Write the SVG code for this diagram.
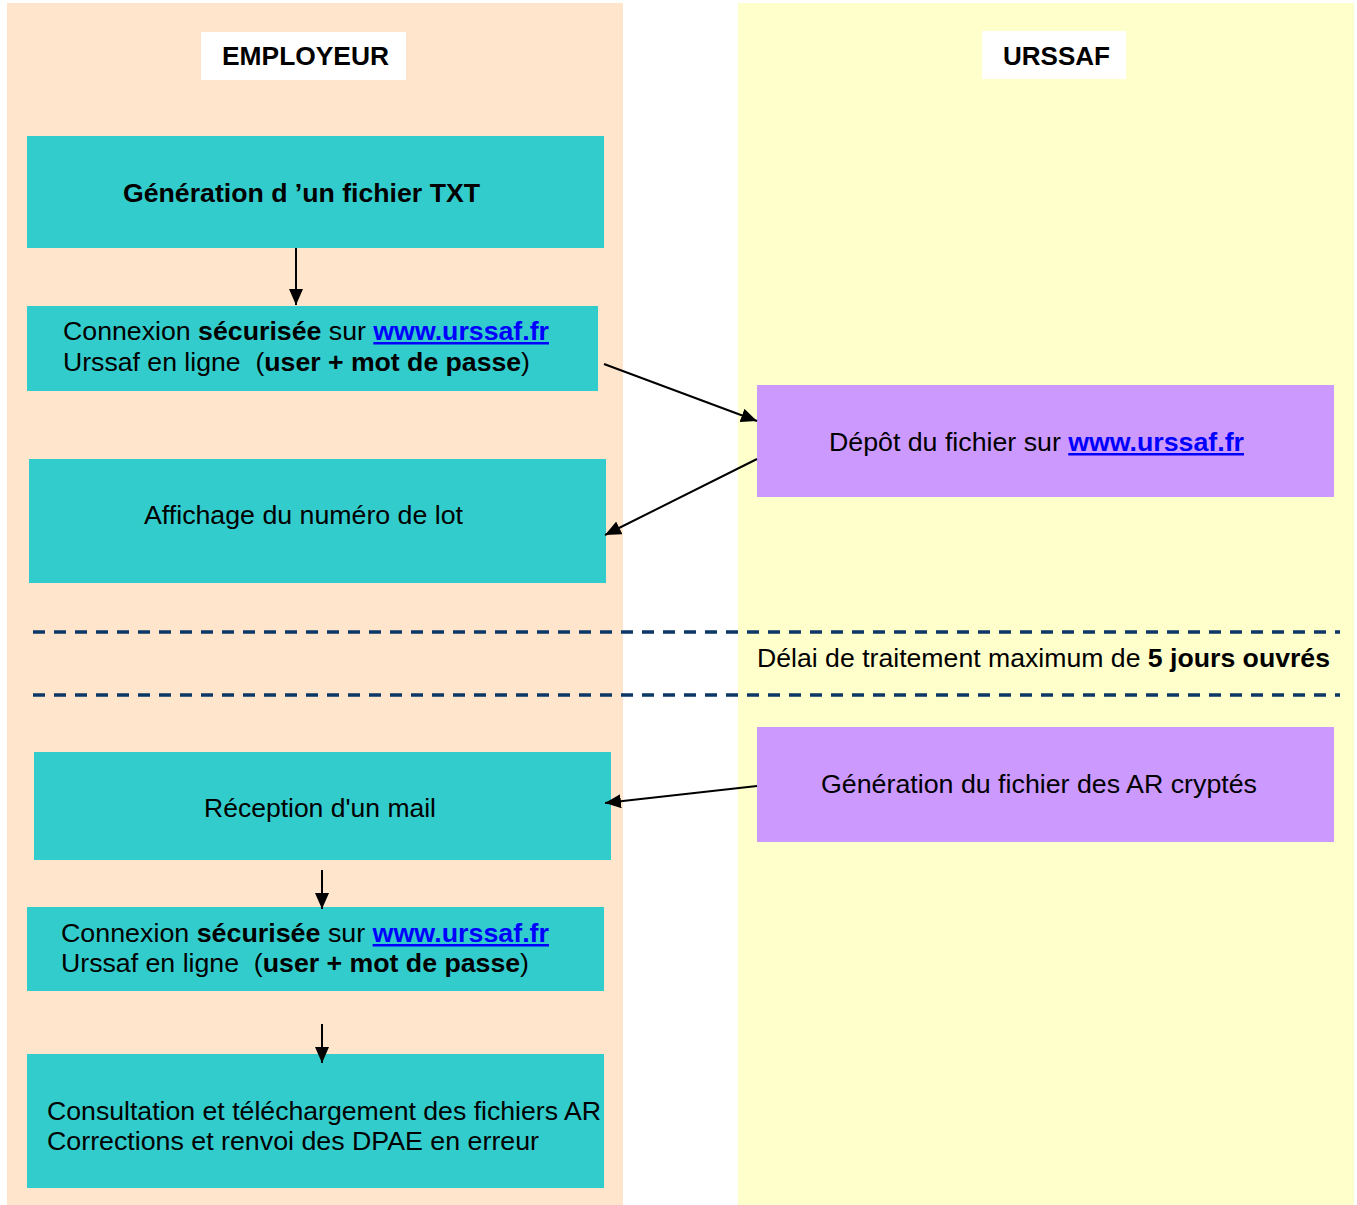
<svg xmlns="http://www.w3.org/2000/svg" width="1357" height="1205" viewBox="0 0 1357 1205">
<defs>
<style>
text{font-family:"Liberation Sans",Arial,sans-serif;font-size:25px;fill:#000;white-space:pre}
.b{font-weight:bold}
.lnk{fill:#0000FF;font-weight:bold;text-decoration:underline}
.teal{fill:#33CCCC}
.pur{fill:#CC99FF}
.con{stroke:#000;stroke-width:2;fill:none;marker-end:url(#ah)}
.dash{stroke:#0B3766;stroke-width:3.5;stroke-dasharray:12 9;fill:none}
</style>
<marker id="ah" viewBox="0 0 16 14" refX="16" refY="7" markerWidth="16" markerHeight="14" orient="auto" markerUnits="userSpaceOnUse">
<path d="M0,0 L16,7 L0,14 z" fill="#000"/>
</marker>
</defs>
<rect width="1357" height="1205" fill="#fff"/>
<g id="lane-employeur">
<rect x="7" y="3" width="616" height="1202" fill="#FFE5CB"/>
<rect x="201" y="32" width="205" height="48" fill="#fff"/>
<text x="222" y="65" class="b" textLength="167" lengthAdjust="spacingAndGlyphs">EMPLOYEUR</text>
</g>
<g id="lane-urssaf">
<rect x="738" y="3" width="616" height="1202" fill="#FFFFCC"/>
<rect x="982" y="31" width="144" height="48" fill="#fff"/>
<text x="1003" y="65" class="b" textLength="107" lengthAdjust="spacingAndGlyphs">URSSAF</text>
</g>
<g id="n1">
<rect x="27" y="136" width="577" height="112" class="teal"/>
<text x="123" y="202" class="b" textLength="357" lengthAdjust="spacingAndGlyphs">Génération d ’un fichier TXT</text>
</g>
<g id="n2">
<rect x="27" y="306" width="571" height="85" class="teal"/>
<text x="63" y="340" textLength="486" lengthAdjust="spacingAndGlyphs">Connexion <tspan class="b">sécurisée</tspan> sur <tspan class="lnk">www.urssaf.fr</tspan></text>
<text x="63" y="371" textLength="467" lengthAdjust="spacingAndGlyphs">Urssaf en ligne  (<tspan class="b">user + mot de passe</tspan>)</text>
</g>
<g id="n3">
<rect x="29" y="459" width="577" height="124" class="teal"/>
<text x="144" y="524" textLength="319" lengthAdjust="spacingAndGlyphs">Affichage du numéro de lot</text>
</g>
<g id="n4">
<rect x="757" y="385" width="577" height="112" class="pur"/>
<text x="829" y="451" textLength="415" lengthAdjust="spacingAndGlyphs">Dépôt du fichier sur <tspan class="lnk">www.urssaf.fr</tspan></text>
</g>
<g id="delai">
<path d="M33 632 H1340" class="dash"/>
<path d="M33 695 H1340" class="dash"/>
<text x="757" y="667" textLength="573" lengthAdjust="spacingAndGlyphs">Délai de traitement maximum de <tspan class="b">5 jours ouvrés</tspan></text>
</g>
<g id="n5">
<rect x="34" y="752" width="577" height="108" class="teal"/>
<text x="204" y="817" textLength="232" lengthAdjust="spacingAndGlyphs">Réception d'un mail</text>
</g>
<g id="n6">
<rect x="757" y="727" width="577" height="115" class="pur"/>
<text x="821" y="793" textLength="436" lengthAdjust="spacingAndGlyphs">Génération du fichier des AR cryptés</text>
</g>
<g id="n7">
<rect x="27" y="907" width="577" height="84" class="teal"/>
<text x="61" y="942" textLength="488" lengthAdjust="spacingAndGlyphs">Connexion <tspan class="b">sécurisée</tspan> sur <tspan class="lnk">www.urssaf.fr</tspan></text>
<text x="61" y="972" textLength="468" lengthAdjust="spacingAndGlyphs">Urssaf en ligne  (<tspan class="b">user + mot de passe</tspan>)</text>
</g>
<g id="n8">
<rect x="27" y="1054" width="577" height="134" class="teal"/>
<text x="47" y="1120" textLength="554" lengthAdjust="spacingAndGlyphs">Consultation et téléchargement des fichiers AR</text>
<text x="47" y="1150" textLength="492" lengthAdjust="spacingAndGlyphs">Corrections et renvoi des DPAE en erreur</text>
</g>
<g id="connectors">
<path d="M296 248 V305" class="con"/>
<path d="M604 364 L757 421" class="con"/>
<path d="M757 459 L605 535" class="con"/>
<path d="M757 786 L605 803" class="con"/>
<path d="M322 870 V909" class="con"/>
<path d="M322 1024 V1063" class="con"/>
</g>
</svg>
